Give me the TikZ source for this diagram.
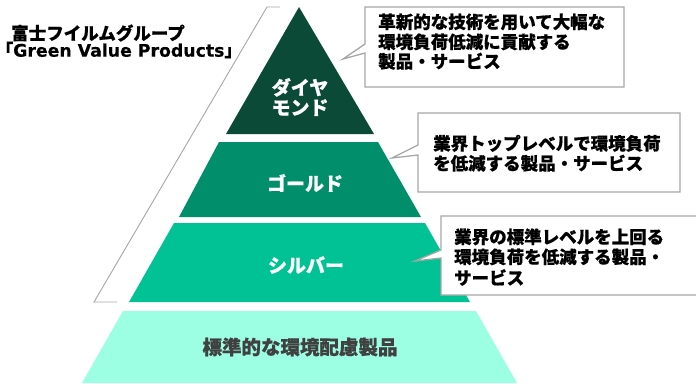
\documentclass[tikz,border=0pt]{standalone}
\usepackage{fontspec}
\newfontfamily\jp{Noto Sans CJK JP}[BoldFeatures={FakeBold=0.6}]
\newfontfamily\lat{DejaVu Sans}[BoldFeatures={FakeBold=0.3}]
\definecolor{cdia}{HTML}{0B4A36}
\definecolor{cgold}{HTML}{008F6A}
\definecolor{csil}{HTML}{00C294}
\definecolor{cbase}{HTML}{9CFFE3}
\definecolor{cgray}{HTML}{A6A6A6}
\definecolor{ctxt}{HTML}{404040}
\begin{document}
\begin{tikzpicture}[x=1pt,y=-1pt,
  callout/.style={draw=cgray, line width=1.3pt, fill=white, line join=miter},
  ctext/.style={anchor=base west, inner sep=0, font=\jp\bfseries\fontsize{17.5}{20}\selectfont, text=black},
  lbl/.style={font=\jp\bfseries\fontsize{19}{20}\selectfont, text=white, inner sep=0, align=center},
  ttl/.style={anchor=west, inner sep=0, font=\jp\bfseries\fontsize{17.5}{20}\selectfont, text=black}]
\useasboundingbox (0,0) rectangle (696,383);
% bracket
\draw[cgray, line width=0.9pt] (280,7) -- (267,7) -- (94,302) -- (117,302);
% pyramid layers
\fill[cdia] (299,7) -- (374,134) -- (226,134) -- cycle;
\fill[cgold] (219,142) -- (378,142) -- (421,217) -- (179,217) -- cycle;
\fill[csil] (174,223) -- (425,223) -- (470,302) -- (129,302) -- cycle;
\fill[cbase] (123,311) -- (476,311) -- (517,383) -- (82,383) -- cycle;
% layer labels
\node[lbl] (dia) at (300,97) {ダイヤ\\モンド};
\node[lbl] (gold) at (305,183) {ゴールド};
\node[lbl] (sil) at (306,265) {シルバー};
\node[lbl, text=ctxt, font=\jp\bfseries\fontsize{19.5}{20}\selectfont] (base) at (300,347) {標準的な環境配慮製品};
% title
\node[ttl] (t1) at (11,33) {富士フイルムグループ};
\node[ttl] (t2) at (0,50) {\hspace*{-4.5pt}「{\lat\bfseries\fontsize{17.3}{20}\selectfont Green Value Products}」};
% callout 1
\draw[callout] (365,7) -- (624,7) -- (624,87) -- (365,87) -- (365,53) -- (343,59) -- (365,44) -- cycle;
\node[ctext] (c1a) at (378,28.5) {革新的な技術を用いて大幅な};
\node[ctext] (c1b) at (378,48.5) {環境負荷低減に貢献する};
\node[ctext] (c1c) at (378,68) {製品・サービス};
% callout 2
\draw[callout] (418,113) -- (680,113) -- (680,192) -- (418,192) -- (418,155) -- (392,158) -- (418,145) -- cycle;
\node[ctext] (c2a) at (433,150) {業界トップレベルで環境負荷};
\node[ctext] (c2b) at (433,170) {を低減する製品・サービス};
% callout 3
\draw[callout] (441,216) -- (698,216) -- (698,295) -- (441,295) -- (441,258) -- (415,261) -- (441,250) -- cycle;
\node[ctext] (c3a) at (454,243.5) {業界の標準レベルを上回る};
\node[ctext] (c3b) at (454,263.5) {環境負荷を低減する製品・};
\node[ctext] (c3c) at (454,284.5) {サービス};
\end{tikzpicture}
\end{document}
